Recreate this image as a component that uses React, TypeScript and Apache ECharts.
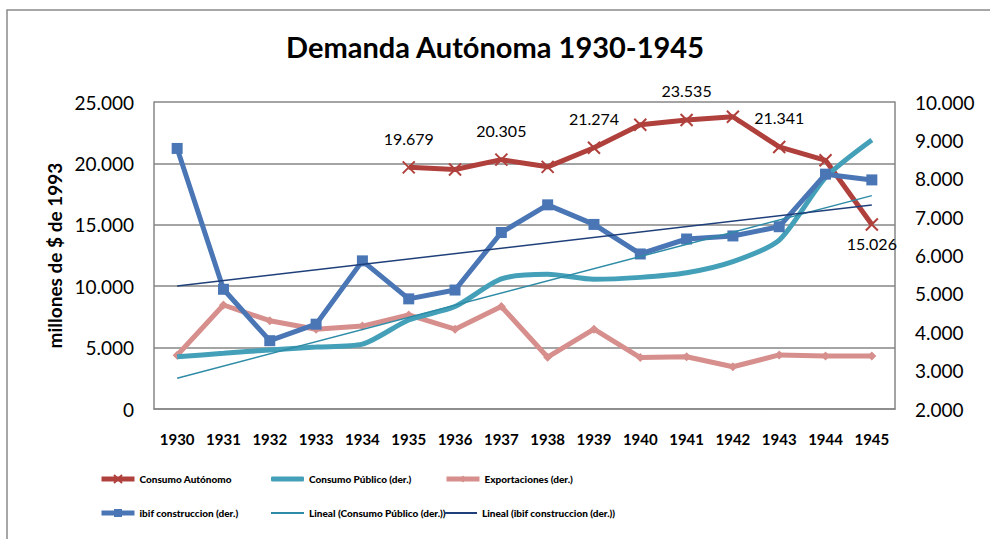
import React, { useEffect, useRef } from "react";
import * as echarts from "echarts";

const years = ["1930", "1931", "1932", "1933", "1934", "1935", "1936", "1937", "1938", "1939", "1940", "1941", "1942", "1943", "1944", "1945"];
const consumoAutonomo = [null, null, null, null, null, 19679, 19500, 20305, 19720, 21274, 23150, 23535, 23800, 21341, 20250, 15026];
const consumoPublico = [3363, 3450, 3540, 3615, 3690, 4320, 4670, 5390, 5510, 5380, 5430, 5550, 5840, 6400, 8030, 9010];
const exportaciones = [3400, 4710, 4300, 4080, 4160, 4450, 4080, 4670, 3350, 4080, 3340, 3360, 3100, 3410, 3380, 3380];
const ibifConstruccion = [8790, 5120, 3780, 4210, 5860, 4870, 5100, 6600, 7320, 6810, 6040, 6430, 6510, 6750, 8120, 7970];
const trendConsumoPublico = [2800, 7560]; // values at first and last year
const trendIbif = [5205, 7316];
const labeledYears = ["1935", "1937", "1939", "1941", "1943", "1945"];
const labelBelowYears = ["1945"];
const leftTicks = { min: 0, max: 25000, interval: 5000 };
const rightTicks = { min: 2000, max: 10000, interval: 1000 };

const names = [
  "Consumo Autónomo",
  "Consumo Público (der.)",
  "Exportaciones (der.)",
  "ibif construccion (der.)",
  "Lineal (Consumo Público (der.))",
  "Lineal (ibif construccion (der.))",
];

const FONT = "Lato";
const fmt = (v: number) => String(Math.round(v)).replace(/\B(?=(\d{3})+(?!\d))/g, ".");

const endpoints = (pair: number[]) => years.map((_, i) => (i === 0 ? pair[0] : i === years.length - 1 ? pair[1] : null));

export default function App() {
  const ref = useRef<HTMLDivElement>(null);
  useEffect(() => {
    if (!ref.current) return;
    const chart = echarts.init(ref.current, null, { renderer: "svg" });
    const caData = consumoAutonomo.map((v, i) => {
      const y = years[i];
      if (v !== null && labeledYears.includes(y)) {
        const below = labelBelowYears.includes(y);
        return {
          value: v,
          label: {
            show: true,
            position: below ? "bottom" : "top",
            distance: below ? 4 : 14,
            formatter: (p: any) => fmt(p.value),
            fontFamily: FONT,
            fontSize: 16,
            color: "#000",
          },
        };
      }
      return v;
    });
    const legendPos = [
      [99, 472],
      [271, 472],
      [444, 472],
      [99, 506],
      [271, 506],
      [444, 506],
    ];
    const legendExtra: any[] = [
      { itemHeight: 10, lineStyle: { width: 5 } },
      { icon: "roundRect", itemHeight: 5 },
      { itemHeight: 9, lineStyle: { width: 5 } },
      { itemHeight: 10, lineStyle: { width: 5 } },
      { icon: "rect", itemHeight: 2 },
      { icon: "rect", itemHeight: 2 },
    ];
    chart.setOption({
      animation: false,
      backgroundColor: "#fff",
      title: {
        text: "Demanda Autónoma 1930-1945",
        left: "center",
        top: 27,
        textStyle: { fontFamily: FONT, fontSize: 29, fontWeight: "bold", color: "#000" },
      },
      graphic: [
        {
          type: "rect",
          shape: { x: 7, y: 10, width: 1100, height: 700 },
          style: { fill: "none", stroke: "#8a8a8a", lineWidth: 1.5 },
          silent: true,
        },
      ],
      legend: names.map((n, i) => ({
        data: [n],
        left: legendPos[i][0],
        top: legendPos[i][1],
        padding: 0,
        itemWidth: 33,
        itemGap: 0,
        ...legendExtra[i],
        textStyle: { fontFamily: FONT, fontSize: 10, fontWeight: 900, color: "#000", height: 14, lineHeight: 14 },
      })),
      grid: { left: 154, right: 95, top: 102, bottom: 130 },
      xAxis: {
        type: "category",
        data: years,
        boundaryGap: true,
        axisLine: { lineStyle: { color: "#868686", width: 1.5 } },
        axisTick: { show: false },
        axisLabel: { fontFamily: FONT, fontSize: 15, fontWeight: "bold", color: "#000", margin: 22, interval: 0 },
      },
      yAxis: [
        {
          type: "value",
          ...leftTicks,
          name: "millones de $ de 1993",
          nameLocation: "middle",
          nameGap: 90,
          nameTextStyle: { fontFamily: FONT, fontSize: 19, fontWeight: "bold", color: "#000" },
          axisLine: { show: true, lineStyle: { color: "#868686", width: 1.5 } },
          axisTick: { show: false },
          axisLabel: { fontFamily: FONT, fontSize: 19, color: "#000", margin: 20, formatter: fmt },
          splitLine: { lineStyle: { color: "#868686", width: 1.5 } },
        },
        {
          type: "value",
          ...rightTicks,
          position: "right",
          axisLine: { show: true, lineStyle: { color: "#868686", width: 1.5 } },
          axisTick: { show: false },
          axisLabel: { fontFamily: FONT, fontSize: 19, color: "#000", margin: 20, formatter: fmt },
          splitLine: { show: false },
        },
      ],
      series: [
        {
          name: names[0],
          type: "line",
          data: caData,
          yAxisIndex: 0,
          symbol: "path://M0 0L10 10M10 0L0 10",
          symbolSize: 12,
          lineStyle: { color: "#B0403C", width: 5 },
          itemStyle: { color: "#B0403C", borderColor: "#B0403C", borderWidth: 2 },
          z: 3,
        },
        {
          name: names[1],
          type: "line",
          data: consumoPublico,
          yAxisIndex: 1,
          smooth: 0.25,
          symbol: "none",
          lineStyle: { color: "#44A0B8", width: 5 },
          itemStyle: { color: "#44A0B8" },
          z: 4,
        },
        {
          name: names[2],
          type: "line",
          data: exportaciones,
          yAxisIndex: 1,
          symbol: "diamond",
          symbolSize: 9,
          lineStyle: { color: "#D68F8C", width: 5 },
          itemStyle: { color: "#D68F8C" },
          z: 2,
        },
        {
          name: names[3],
          type: "line",
          data: ibifConstruccion,
          yAxisIndex: 1,
          symbol: "rect",
          symbolSize: 11,
          lineStyle: { color: "#4A76B5", width: 5 },
          itemStyle: { color: "#4A76B5" },
          z: 5,
        },
        {
          name: names[4],
          type: "line",
          data: endpoints(trendConsumoPublico),
          connectNulls: true,
          yAxisIndex: 1,
          symbol: "none",
          lineStyle: { color: "#2E8BA6", width: 1.5 },
          itemStyle: { color: "#2E8BA6" },
          z: 6,
        },
        {
          name: names[5],
          type: "line",
          data: endpoints(trendIbif),
          connectNulls: true,
          yAxisIndex: 1,
          symbol: "none",
          lineStyle: { color: "#1F3F7A", width: 1.5 },
          itemStyle: { color: "#1F3F7A" },
          z: 6,
        },
      ],
    });
    return () => chart.dispose();
  }, []);
  return <div ref={ref} style={{ position: "fixed", left: 0, top: 0, width: 990, height: 539 }} />;
}
